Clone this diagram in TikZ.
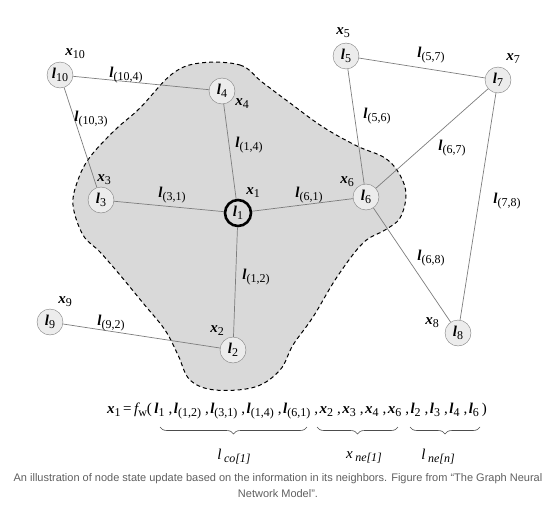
\documentclass[tikz,border=0pt]{standalone}
\usepackage{fontspec}
\setmainfont{Liberation Serif}
\newfontfamily\capfont{Liberation Sans}
\usetikzlibrary{decorations.pathreplacing}
\definecolor{blobgray}{RGB}{217,217,217}
\definecolor{vtxgray}{RGB}{236,236,236}
\definecolor{edgegray}{RGB}{125,125,125}
\definecolor{capgray}{RGB}{95,95,95}
% bold italic letter with an upright subscript
\newcommand{\varlab}[2]{{\bfseries\itshape #1}\raisebox{-0.45ex}{\fontsize{12}{12}\selectfont #2}}
% italic letter with an italic subscript (brace labels)
\newcommand{\grplab}[2]{{\itshape #1}\,\raisebox{-0.45ex}{\fontsize{12}{12}\selectfont\itshape #2}}
% comma of the equation
\newcommand{\eqsep}{\hspace{4pt},\hspace{1.5pt}}

\begin{document}
\begin{tikzpicture}[x=1pt,y=-1pt,
  vtx/.style={draw=edgegray,fill=vtxgray,circle,minimum size=26pt,inner sep=0pt,
              font=\fontsize{15}{15}\selectfont},
  ctr/.style={vtx,draw=black,line width=2.6pt,fill=blobgray},
  edge/.style={draw=edgegray,line width=0.7pt},
  lbl/.style={inner sep=1pt,font=\fontsize{15}{15}\selectfont},
  blob/.style={fill=blobgray,draw=black,dash pattern=on 4pt off 3pt,line width=1pt},
  brc/.style={decorate,decoration={brace,mirror,amplitude=7pt},draw=black!70,line width=0.6pt}
]
  \useasboundingbox (0,0) rectangle (557,530);

  % neighbourhood of l1
  \draw[blob] plot[smooth cycle,tension=0.6] coordinates {
    (200,63) (240,65) (262,82) (290,103) (323,127) (357,146) (385,158)
    (400,175) (406,195) (400,218) (385,230) (363,243) (337,277) (313,317)
    (293,345) (280,370) (255,387) (215,390) (190,380) (178,355) (165,330)
    (143,303) (120,275) (100,252) (83,235) (73,205) (78,180) (90,157)
    (115,130) (140,108) (172,74)};

  % vertices
  \node[ctr] (l1)  at (238,213) {\varlab{l}{1}};
  \node[vtx] (l2)  at (233,350) {\varlab{l}{2}};
  \node[vtx] (l3)  at (101,200) {\varlab{l}{3}};
  \node[vtx] (l4)  at (222,91)  {\varlab{l}{4}};
  \node[vtx] (l5)  at (346,56)  {\varlab{l}{5}};
  \node[vtx] (l6)  at (366,197) {\varlab{l}{6}};
  \node[vtx] (l7)  at (498,80)  {\varlab{l}{7}};
  \node[vtx] (l8)  at (458,333) {\varlab{l}{8}};
  \node[vtx] (l9)  at (50,322)  {\varlab{l}{9}};
  \node[vtx] (l10) at (60,75)   {\varlab{l}{10}};

  % states
  \node[lbl] (x1)  at (253,193) {\varlab{x}{1}};
  \node[lbl] (x2)  at (217,331) {\varlab{x}{2}};
  \node[lbl] (x3)  at (104,180) {\varlab{x}{3}};
  \node[lbl] (x4)  at (242,104) {\varlab{x}{4}};
  \node[lbl] (x5)  at (343,33)  {\varlab{x}{5}};
  \node[lbl] (x6)  at (347,182) {\varlab{x}{6}};
  \node[lbl] (x7)  at (513,59)  {\varlab{x}{7}};
  \node[lbl] (x8)  at (432,323) {\varlab{x}{8}};
  \node[lbl] (x9)  at (65,302)  {\varlab{x}{9}};
  \node[lbl] (x10) at (75,54)   {\varlab{x}{10}};

  % edges
  \draw[edge] (l10) -- (l4);
  \draw[edge] (l10) -- (l3);
  \draw[edge] (l4) -- (l1);
  \draw[edge] (l3) -- (l1);
  \draw[edge] (l1) -- (l6);
  \draw[edge] (l1) -- (l2);
  \draw[edge] (l9) -- (l2);
  \draw[edge] (l5) -- (l6);
  \draw[edge] (l5) -- (l7);
  \draw[edge] (l6) -- (l7);
  \draw[edge] (l7) -- (l8);
  \draw[edge] (l6) -- (l8);

  % edge labels
  \node[lbl] (e104) at (126,75)  {\varlab{l}{(10,4)}};
  \node[lbl] (e103) at (91,119)  {\varlab{l}{(10,3)}};
  \node[lbl] (e14)  at (249,145) {\varlab{l}{(1,4)}};
  \node[lbl] (e31)  at (172,195) {\varlab{l}{(3,1)}};
  \node[lbl] (e61)  at (309,195) {\varlab{l}{(6,1)}};
  \node[lbl] (e12)  at (256,277) {\varlab{l}{(1,2)}};
  \node[lbl] (e92)  at (111,323) {\varlab{l}{(9,2)}};
  \node[lbl] (e56)  at (377,116) {\varlab{l}{(5,6)}};
  \node[lbl] (e57)  at (431,55)  {\varlab{l}{(5,7)}};
  \node[lbl] (e67)  at (452,148) {\varlab{l}{(6,7)}};
  \node[lbl] (e78)  at (507,201) {\varlab{l}{(7,8)}};
  \node[lbl] (e68)  at (431,258) {\varlab{l}{(6,8)}};

  % state update equation
  \node[lbl,anchor=west] (eq) at (106,411) {\varlab{x}{1}\,=\,{\itshape f}\raisebox{-0.45ex}{\fontsize{12}{12}\selectfont w}(\,\varlab{l}{1}\eqsep\varlab{l}{(1,2)}\eqsep\varlab{l}{(3,1)}\eqsep\varlab{l}{(1,4)}\eqsep\varlab{l}{(6,1)}\eqsep\varlab{x}{2}\eqsep\varlab{x}{3}\eqsep\varlab{x}{4}\eqsep\varlab{x}{6}\eqsep\varlab{l}{2}\eqsep\varlab{l}{3}\eqsep\varlab{l}{4}\eqsep\varlab{l}{6}\hspace{3pt})};

  \coordinate (co1) at (160,427);
  \coordinate (co2) at (307,427);
  \coordinate (ne1) at (317,427);
  \coordinate (ne2) at (398,427);
  \coordinate (nn1) at (410,427);
  \coordinate (nn2) at (480,427);
  \draw[brc] (co1) -- (co2);
  \draw[brc] (ne1) -- (ne2);
  \draw[brc] (nn1) -- (nn2);

  \node[lbl] (gco) at (234,457) {\grplab{l}{co[1]}};
  \node[lbl] (gne) at (364,457) {\grplab{x}{ne[1]}};
  \node[lbl] (gnn) at (438,457) {\grplab{l}{ne[n]}};

  % caption
  \node[font=\capfont\fontsize{11}{16}\selectfont,text=capgray,align=center] (cap) at (278,486)
    {An illustration of node state update based on the information in its neighbors. Figure from “The Graph Neural\\Network Model”.};
\end{tikzpicture}
\end{document}
